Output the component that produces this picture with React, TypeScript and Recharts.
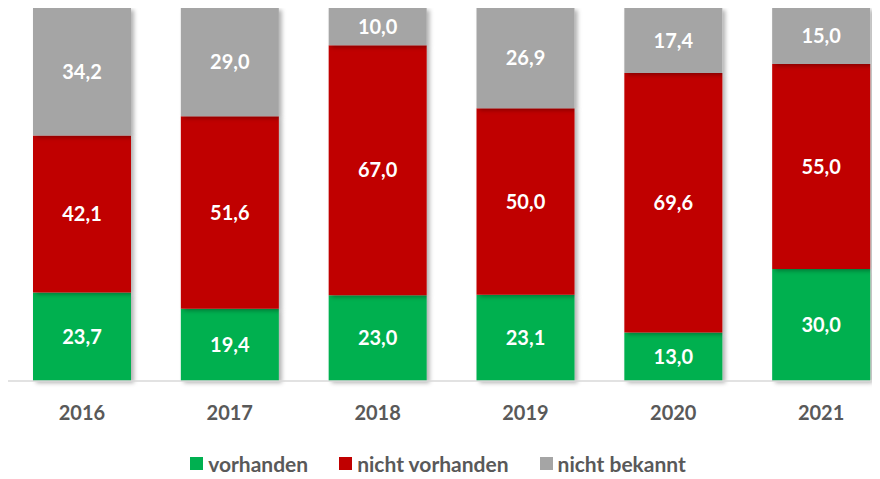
import React from "react";
import { BarChart, Bar, XAxis, YAxis, Legend, LabelList } from "recharts";

const years = ["2016", "2017", "2018", "2019", "2020", "2021"];
const vorhanden = [23.7, 19.4, 23.0, 23.1, 13.0, 30.0];
const nichtVorhanden = [42.1, 51.6, 67.0, 50.0, 69.6, 55.0];
const nichtBekannt = [34.2, 29.0, 10.0, 26.9, 17.4, 15.0];

const SERIES = [
  { key: "vorhanden", name: "vorhanden", color: "#00B050" },
  { key: "nichtVorhanden", name: "nicht vorhanden", color: "#C00000" },
  { key: "nichtBekannt", name: "nicht bekannt", color: "#A5A5A5" },
];

const data = years.map((year, i) => ({
  year,
  vorhanden: vorhanden[i],
  nichtVorhanden: nichtVorhanden[i],
  nichtBekannt: nichtBekannt[i],
}));

const FONT = "Lato, 'Open Sans', sans-serif";
const TEXT = "#595959";

function fmt(v: unknown): string {
  return Number(v).toFixed(1).replace(".", ",");
}

function YearTick(props: any) {
  const { x, y, payload } = props;
  return (
    <text
      x={x}
      y={y + 31}
      textAnchor="middle"
      fill={TEXT}
      fontFamily={FONT}
      fontWeight={700}
      fontSize={20}
    >
      {payload.value}
    </text>
  );
}

function LegendRow() {
  return (
    <div
      style={{
        display: "flex",
        justifyContent: "center",
        gap: 31,
        fontFamily: FONT,
        fontWeight: 700,
        fontSize: 21,
        color: TEXT,
        paddingTop: 18,
        paddingRight: 27,
      }}
    >
      {SERIES.map((s) => (
        <span key={s.key} style={{ display: "flex", alignItems: "center", gap: 5 }}>
          <span style={{ width: 13, height: 13, background: s.color, display: "inline-block" }} />
          {s.name}
        </span>
      ))}
    </div>
  );
}

export default function App() {
  return (
    <div style={{ width: 872, height: 471, overflow: "hidden" }}>
      <BarChart
        width={887}
        height={471}
        data={data}
        margin={{ top: 0, right: 0, left: 0, bottom: 0 }}
        barSize={98}
      >
        <defs>
          <filter id="barShadow" x="-10%" y="-10%" width="130%" height="130%">
            <feDropShadow dx={3} dy={2} stdDeviation={2} floodColor="#000" floodOpacity={0.3} />
          </filter>
        </defs>
        <XAxis
          dataKey="year"
          axisLine={{ stroke: "#D9D9D9", strokeWidth: 1.5 }}
          tickLine={false}
          tick={<YearTick />}
          height={52}
        />
        <YAxis hide domain={[0, 100]} />
        <Legend verticalAlign="bottom" height={46} content={() => <LegendRow />} />
        {SERIES.map((s) => (
          <Bar
            key={s.key}
            dataKey={s.key}
            name={s.name}
            stackId="a"
            fill={s.color}
            filter="url(#barShadow)"
            isAnimationActive={false}
          >
            <LabelList
              dataKey={s.key}
              position="center"
              formatter={fmt}
              fill="#FFFFFF"
              fontFamily={FONT}
              fontWeight={700}
              fontSize={20}
            />
          </Bar>
        ))}
      </BarChart>
    </div>
  );
}
